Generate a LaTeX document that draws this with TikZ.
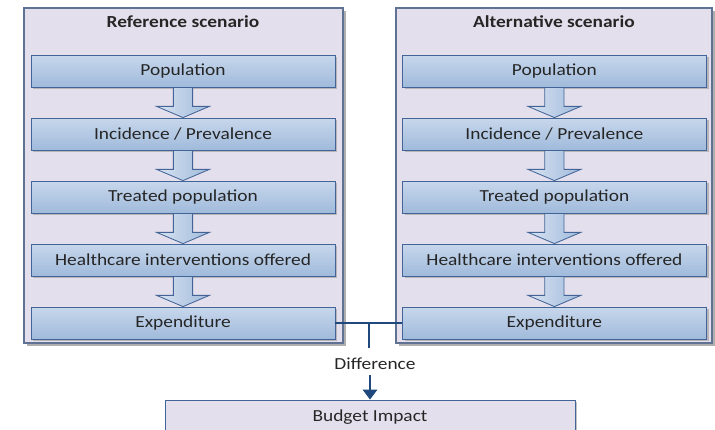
\documentclass[tikz,border=0pt]{standalone}
\usepackage{fontspec}
\setmainfont{Carlito}[FakeStretch=1.15]
\usetikzlibrary{calc}
\usetikzlibrary{arrows.meta}
\usetikzlibrary{shadows}

\definecolor{scenfill}{RGB}{228,223,236}
\definecolor{scenedge}{RGB}{96,114,148}
\definecolor{stagetop}{RGB}{199,215,236}
\definecolor{stagebot}{RGB}{160,186,219}
\definecolor{stageedge}{RGB}{66,100,150}
\definecolor{linkblue}{RGB}{31,73,125}

\begin{document}
\begin{tikzpicture}[
     txt/.style={font=\fontsize{12}{14}\selectfont,text=black!85},
     scenario/.style={draw=scenedge,fill=scenfill,line width=0.8pt,
       drop shadow={shadow xshift=2pt,shadow yshift=-2pt,fill=black!45,opacity=0.7}},
     stage/.style={txt,draw=stageedge,top color=stagetop,bottom color=stagebot,
       minimum width=7.6cm,minimum height=0.8cm,inner sep=0pt,line width=0.6pt,
       drop shadow={shadow xshift=1.5pt,shadow yshift=-1.5pt,fill=black!40,opacity=0.6}},
     flow/.style={draw=stageedge,line width=0.6pt,left color=stagetop!70!white,right color=stagebot,
       to path={($(\tikztostart)+(-0.24,0)$) -- ($(\tikztotarget)+(-0.24,0.28)$)
         -- ($(\tikztotarget)+(-0.66,0.28)$) -- (\tikztotarget)
         -- ($(\tikztotarget)+(0.66,0.28)$) -- ($(\tikztotarget)+(0.24,0.28)$)
         -- ($(\tikztostart)+(0.24,0)$) -- cycle}},
     link/.style={draw=linkblue,line width=1.6pt}
   ]
   \path[use as bounding box] (0,0) rectangle (17.875,10.725);
   % Scenario frames.
   \path[scenario] (0.6,2.15) rectangle (8.575,10.525);
   \path[scenario] (9.9,2.15) rectangle (17.8,10.525);
   \node[txt,font=\fontsize{12}{14}\selectfont\bfseries] (reftitle) at (4.575,10.175) {Reference scenario};
   \node[txt,font=\fontsize{12}{14}\selectfont\bfseries] (alttitle) at (13.85,10.175) {Alternative scenario};
   % Reference stages.
   \node[stage] (rpop) at (4.575,8.95) {Population};
   \node[stage] (rinc) at (4.575,7.375) {Incidence / Prevalence};
   \node[stage] (rtreat) at (4.575,5.8) {Treated population};
   \node[stage] (rcare) at (4.575,4.225) {Healthcare interventions offered};
   \node[stage] (rexp) at (4.575,2.65) {Expenditure};
   % Alternative stages.
   \node[stage] (apop) at (13.86,8.95) {Population};
   \node[stage] (ainc) at (13.86,7.375) {Incidence / Prevalence};
   \node[stage] (atreat) at (13.86,5.8) {Treated population};
   \node[stage] (acare) at (13.86,4.225) {Healthcare interventions offered};
   \node[stage] (aexp) at (13.86,2.65) {Expenditure};
   % Block arrows.
   \path[flow] (rpop.south) to (rinc.north);
   \path[flow] (rinc.south) to (rtreat.north);
   \path[flow] (rtreat.south) to (rcare.north);
   \path[flow] (rcare.south) to (rexp.north);
   \path[flow] (apop.south) to (ainc.north);
   \path[flow] (ainc.south) to (atreat.north);
   \path[flow] (atreat.south) to (acare.north);
   \path[flow] (acare.south) to (aexp.north);
   % Difference and budget impact.
   \node[txt] (diff) at (9.375,1.625) {Difference};
   \node[txt,draw=stageedge,fill=scenfill,line width=0.6pt,minimum width=10.25cm,minimum height=0.85cm,
     drop shadow={shadow xshift=1.5pt,shadow yshift=-1.5pt,fill=black!40,opacity=0.6}] (budget) at (9.25,0.3) {Budget Impact};
   \coordinate (join) at ($(rexp.east)!0.5!(aexp.west)$);
   \coordinate (stub) at ($(join)+(0,-0.625)$);
   \draw[link] (rexp.east) -- (aexp.west);
   \draw[link] (join) -- (stub);
   \draw[link,-{Triangle[width=10pt,length=7pt]}] (budget.north |- diff.south) -- (budget.north);
 \end{tikzpicture}
\end{document}
